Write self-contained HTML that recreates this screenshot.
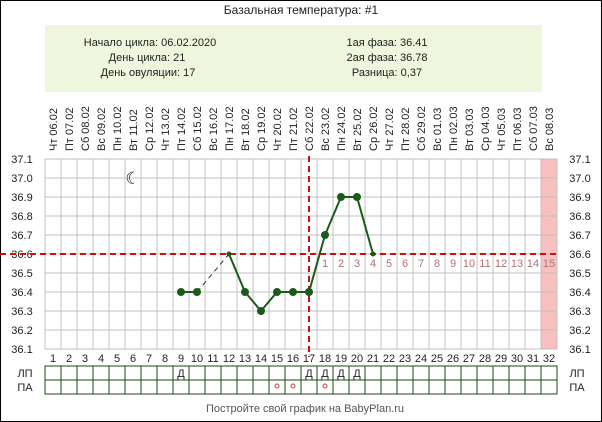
<!DOCTYPE html>
<html><head><meta charset="utf-8"><style>
body{margin:0;background:#fff}
svg{display:block;font-family:"Liberation Sans","DejaVu Sans",sans-serif}
</style></head><body>
<svg id="c" width="602" height="422" viewBox="0 0 602 422" xmlns="http://www.w3.org/2000/svg">
<rect x="0" y="0" width="602" height="422" fill="#fff" stroke="#000" stroke-width="2"/>
<text x="301" y="14" font-size="12" text-anchor="middle" fill="#222">Базальная температура: #1</text>
<rect x="45" y="25" width="497" height="67" fill="#eef6dd"/>
<g font-size="11" fill="#222" text-anchor="middle">
<text x="150" y="46">Начало цикла: 06.02.2020</text>
<text x="147" y="61">День цикла: 21</text>
<text x="148" y="76">День овуляции: 17</text>
<text x="387" y="46">1ая фаза: 36.41</text>
<text x="387" y="61">2ая фаза: 36.78</text>
<text x="387" y="76">Разница: 0,37</text>
</g>
<g id="plot"></g>
<text x="305" y="412" font-size="11" text-anchor="middle" fill="#555">Постройте свой график на BabyPlan.ru</text>
</svg>
<script>
const days = [1,2,3,4,5,6,7,8,9,10,11,12,13,14,15,16,17,18,19,20,21,22,23,24,25,26,27,28,29,30,31,32];
const dates = ["Чт 06.02","Пт 07.02","Сб 08.02","Вс 09.02","Пн 10.02","Вт 11.02","Ср 12.02","Чт 13.02","Пт 14.02","Сб 15.02","Вс 16.02","Пн 17.02","Вт 18.02","Ср 19.02","Чт 20.02","Пт 21.02","Сб 22.02","Вс 23.02","Пн 24.02","Вт 25.02","Ср 26.02","Чт 27.02","Пт 28.02","Сб 29.02","Вс 01.03","Пн 02.03","Вт 03.03","Ср 04.03","Чт 05.03","Пт 06.03","Сб 07.03","Вс 08.03"];
const temps = [null,null,null,null,null,null,null,null,36.4,36.4,null,36.6,36.4,36.3,36.4,36.4,36.4,36.7,36.9,36.9,36.6];
const yTicks = [37.1,37.0,36.9,36.8,36.7,36.6,36.5,36.4,36.3,36.2,36.1];
const coverline = 36.6;
const ovulationDay = 17;
const lpMarks = [9,17,18,19,20];
const paMarks = [15,16,18];
const moonDay = 6;

const NS="http://www.w3.org/2000/svg";
const g=document.getElementById('plot');
const X0=45, CW=16, N=days.length;
const xL=d=>X0+(d-1)*CW, xC=d=>X0+(d-0.5)*CW;
const y=v=>254+(36.6-v)*190;
const yTop=y(37.1), yBot=y(36.1);
function mk(t,a){const e=document.createElementNS(NS,t);for(const k in a)e.setAttribute(k,a[k]);g.appendChild(e);return e;}
let e=mk('rect',{x:xL(N),y:yTop,width:CW,height:yBot-yTop,fill:'#f8c0c0'});


for(const v of yTicks){
 e=mk('line',{x1:X0,x2:X0+N*CW,y1:y(v),y2:y(v),stroke:'#c0c0c0'});
 
 
 for(const xx of [22,580]){
  e=mk('text',{x:xx,y:y(v)+4,'font-size':11,'text-anchor':'middle',fill:'#222'});e.textContent=v.toFixed(1);
  
  
 }
}
for(let i=0;i<=N;i++){
 e=mk('line',{x1:X0+i*CW,x2:X0+i*CW,y1:yTop,y2:yBot,stroke:'#c0c0c0'});
 
 
}
days.forEach((d,i)=>{
 e=mk('text',{x:0,y:0,'font-size':11,fill:'#222',transform:`translate(${xC(d)+4},151) rotate(-90)`});e.textContent=dates[i];
 
 
 e=mk('text',{x:xC(d),y:362,'font-size':11,'text-anchor':'middle',fill:'#222'});e.textContent=d;
 
 
 if(d>ovulationDay){
  e=mk('text',{x:xC(d),y:y(coverline)+13,'font-size':11,'text-anchor':'middle',fill:'#b07070'});e.textContent=d-ovulationDay;
  
  
 }
});
e=mk('text',{x:xC(moonDay),y:y(37.0)+6,'font-size':17,'text-anchor':'middle',fill:'#222'});e.textContent='☾';


e=mk('line',{x1:0,x2:X0+N*CW,y1:y(coverline),y2:y(coverline),stroke:'#cc1111','stroke-width':2,'stroke-dasharray':'6,4'});


e=mk('line',{x1:xC(ovulationDay),x2:xC(ovulationDay),y1:yTop-3,y2:yBot+8,stroke:'#cc1111','stroke-width':2,'stroke-dasharray':'6,4'});


for(let i=0;i<temps.length-1;i++){
 if(temps[i]==null)continue;
 let j=i+1;while(j<temps.length&&temps[j]==null)j++;
 if(j>=temps.length)break;
 const gap=j>i+1;
 e=mk('line',{x1:xC(i+1),y1:y(temps[i]),x2:xC(j+1),y2:y(temps[j]),stroke:gap?'#333':'#1a5a1a','stroke-width':gap?1:2,'stroke-dasharray':gap?'5,4':'none'});
 
 
}
temps.forEach((t,i)=>{
 if(t==null)return;
 const small=(i==11||i==temps.length-1);
 e=mk('circle',{cx:xC(i+1),cy:y(t),r:small?2.5:4,fill:'#1a5a1a'});
 
 
});
const rows=[['ЛП',366],['ПА',380]];
rows.forEach(([lab,ry])=>{
 for(const xx of [25,577]){
  e=mk('text',{x:xx,y:ry+11,'font-size':11,'text-anchor':'middle',fill:'#222'});e.textContent=lab;
  
  
 }
});
e=mk('rect',{x:X0,y:366,width:N*CW,height:28,fill:'none',stroke:'#1a4a1a'});


e=mk('line',{x1:X0,x2:X0+N*CW,y1:380,y2:380,stroke:'#1a4a1a'});


for(let i=1;i<N;i++){
 e=mk('line',{x1:X0+i*CW,x2:X0+i*CW,y1:366,y2:394,stroke:'#1a4a1a'});
 
 
}
lpMarks.forEach(d=>{
 e=mk('text',{x:xC(d),y:377,'font-size':11,'text-anchor':'middle',fill:'#222'});e.textContent='Д';
 
 
});
paMarks.forEach(d=>{
 e=mk('circle',{cx:xC(d),cy:386,r:2,fill:'none',stroke:'#cc4444'});
 
 
});
</script>
</body></html>
